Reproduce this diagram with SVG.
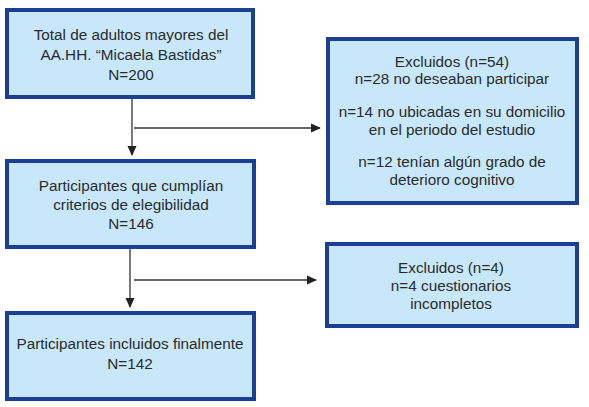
<svg xmlns="http://www.w3.org/2000/svg" width="589" height="407" viewBox="0 0 589 407">
<defs>
<marker id="ah" markerWidth="10" markerHeight="10" refX="9" refY="5" orient="auto" markerUnits="userSpaceOnUse">
<path d="M0,0.5 L10,5 L0,9.5 Z" fill="#222"/>
</marker>
<style>
.box{fill:#c8e8fa;stroke:#1b3f93;stroke-width:4}
.t{font-family:"Liberation Sans",Arial,sans-serif;font-size:15.3px;fill:#2b2b2b;text-anchor:middle}
.c{stroke:#333;stroke-width:1.3;fill:none}
</style>
</defs>
<rect width="589" height="407" fill="#fff"/>
<g id="n1">
<rect class="box" x="7" y="10" width="246" height="87"/>
<text class="t" x="131" y="40">Total de adultos mayores del</text>
<text class="t" x="131" y="60">AA.HH. “Micaela Bastidas”</text>
<text class="t" x="131" y="80">N=200</text>
</g>
<g id="n2">
<rect class="box" x="328" y="39" width="249" height="164"/>
<text class="t" x="452" y="67">Excluidos (n=54)</text>
<text class="t" x="452" y="84">n=28 no deseaban participar</text>
<text class="t" x="452" y="117">n=14 no ubicadas en su domicilio</text>
<text class="t" x="452" y="135">en el periodo del estudio</text>
<text class="t" x="452" y="167">n=12 tenían algún grado de</text>
<text class="t" x="452" y="185">deterioro cognitivo</text>
</g>
<g id="n3">
<rect class="box" x="7" y="161" width="247" height="86"/>
<text class="t" x="131" y="191">Participantes que cumplían</text>
<text class="t" x="131" y="210">criterios de elegibilidad</text>
<text class="t" x="131" y="229">N=146</text>
</g>
<g id="n4">
<rect class="box" x="327" y="244" width="250" height="82"/>
<text class="t" x="451" y="273">Excluidos (n=4)</text>
<text class="t" x="451" y="291">n=4 cuestionarios</text>
<text class="t" x="451" y="309">incompletos</text>
</g>
<g id="n5">
<rect class="box" x="7" y="313" width="247" height="86"/>
<text class="t" x="130" y="349">Participantes incluidos finalmente</text>
<text class="t" x="130" y="369">N=142</text>
</g>
<g id="connectors">
<line class="c" x1="132" y1="99" x2="132" y2="155" marker-end="url(#ah)"/>
<line class="c" x1="134" y1="128" x2="320" y2="128" marker-end="url(#ah)"/>
<line class="c" x1="130" y1="249" x2="130" y2="307" marker-end="url(#ah)"/>
<line class="c" x1="134" y1="280" x2="316" y2="280" marker-end="url(#ah)"/>
</g>
</svg>
